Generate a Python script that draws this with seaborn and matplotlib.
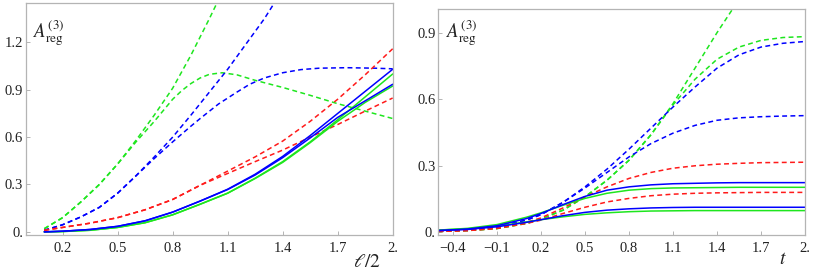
import numpy as np
import pandas as pd
import matplotlib
matplotlib.use("Agg")
import matplotlib.pyplot as plt
import seaborn as sns

# ---------------- data: left panel (x = l/2) ----------------
L_solid_x = [0.1, 0.2, 0.35, 0.5, 0.65, 0.8, 0.95, 1.1, 1.25, 1.4, 1.55, 1.7, 1.85, 2.0]
L_solid_blue_a_y = [0.0, 0.004, 0.015, 0.035, 0.07, 0.125, 0.195, 0.27, 0.365, 0.478, 0.61, 0.75, 0.89, 1.03]
L_solid_blue_b_y = [0.0, 0.004, 0.015, 0.035, 0.07, 0.125, 0.195, 0.268, 0.36, 0.47, 0.595, 0.725, 0.83, 0.935]
L_solid_green_a_y = [0.0, 0.002, 0.01, 0.028, 0.058, 0.108, 0.175, 0.245, 0.34, 0.445, 0.57, 0.71, 0.855, 1.0]
L_solid_green_b_y = [0.0, 0.002, 0.01, 0.028, 0.058, 0.108, 0.175, 0.245, 0.338, 0.44, 0.565, 0.70, 0.82, 0.924]

L_red_x = [0.1, 0.2, 0.35, 0.5, 0.65, 0.8, 0.95, 1.1, 1.25, 1.4, 1.55, 1.7, 1.85, 2.0]
L_red_a_y = [0.01, 0.028, 0.055, 0.09, 0.14, 0.205, 0.295, 0.385, 0.475, 0.575, 0.70, 0.84, 0.995, 1.16]
L_red_b_y = [0.01, 0.028, 0.055, 0.09, 0.14, 0.205, 0.295, 0.37, 0.445, 0.518, 0.60, 0.68, 0.765, 0.848]

L_green_a_x = [0.1, 0.2, 0.3, 0.4, 0.5, 0.6, 0.7, 0.8, 0.9, 1.0, 1.05]
L_green_a_y = [0.02, 0.09, 0.19, 0.30, 0.43, 0.58, 0.74, 0.91, 1.12, 1.35, 1.47]
L_green_b_x = [0.1, 0.2, 0.3, 0.4, 0.5, 0.6, 0.7, 0.8, 0.85, 0.9, 0.95, 1.0, 1.07, 1.15, 1.25, 1.4, 1.55, 1.7, 1.85, 2.0]
L_green_b_y = [0.02, 0.09, 0.19, 0.30, 0.43, 0.57, 0.70, 0.84, 0.895, 0.94, 0.975, 0.998, 1.008, 0.995, 0.96, 0.915, 0.865, 0.812, 0.765, 0.718]

L_blue_a_x = [0.1, 0.2, 0.3, 0.4, 0.5, 0.6, 0.7, 0.8, 0.9, 1.0, 1.1, 1.2, 1.3, 1.36]
L_blue_a_y = [0.01, 0.045, 0.095, 0.155, 0.245, 0.355, 0.475, 0.60, 0.74, 0.885, 1.03, 1.19, 1.35, 1.46]
L_blue_b_x = [0.1, 0.2, 0.3, 0.4, 0.5, 0.6, 0.7, 0.8, 0.9, 0.95, 1.05, 1.15, 1.22, 1.3, 1.4, 1.5, 1.6, 1.75, 1.9, 2.0]
L_blue_b_y = [0.01, 0.045, 0.095, 0.155, 0.245, 0.355, 0.465, 0.57, 0.67, 0.718, 0.81, 0.885, 0.935, 0.975, 1.008, 1.028, 1.037, 1.04, 1.037, 1.033]

# ---------------- data: right panel (x = t) ----------------
R_t = [-0.5, -0.3, -0.1, 0.1, 0.2, 0.35, 0.5, 0.65, 0.8, 0.95, 1.1, 1.25, 1.4, 1.55, 1.7, 1.85, 2.0]
R_solid_blue_a = [0.008, 0.015, 0.03, 0.062, 0.085, 0.125, 0.162, 0.19, 0.205, 0.214, 0.219, 0.221, 0.223, 0.224, 0.224, 0.224, 0.224]
R_solid_green_a = [0.01, 0.018, 0.035, 0.068, 0.088, 0.122, 0.153, 0.176, 0.19, 0.197, 0.2, 0.201, 0.202, 0.203, 0.203, 0.203, 0.203]
R_solid_blue_b = [0.008, 0.013, 0.025, 0.045, 0.057, 0.075, 0.09, 0.1, 0.106, 0.11, 0.112, 0.113, 0.113, 0.113, 0.113, 0.113, 0.113]
R_solid_green_b = [0.01, 0.016, 0.028, 0.047, 0.057, 0.07, 0.081, 0.088, 0.093, 0.096, 0.097, 0.098, 0.098, 0.098, 0.098, 0.098, 0.098]
R_red_a = [0.004, 0.008, 0.018, 0.045, 0.065, 0.11, 0.16, 0.205, 0.243, 0.27, 0.289, 0.30, 0.307, 0.311, 0.314, 0.315, 0.316]
R_red_b = [0.004, 0.008, 0.018, 0.04, 0.055, 0.085, 0.113, 0.137, 0.153, 0.165, 0.172, 0.176, 0.178, 0.179, 0.18, 0.18, 0.18]
R_blue_a = [0.006, 0.012, 0.025, 0.055, 0.08, 0.135, 0.205, 0.285, 0.375, 0.47, 0.565, 0.655, 0.74, 0.80, 0.835, 0.852, 0.86]
R_blue_b = [0.006, 0.012, 0.025, 0.055, 0.08, 0.135, 0.2, 0.27, 0.34, 0.40, 0.447, 0.482, 0.505, 0.516, 0.521, 0.524, 0.526]
R_green_b = [0.004, 0.008, 0.017, 0.04, 0.06, 0.10, 0.16, 0.235, 0.325, 0.44, 0.575, 0.69, 0.78, 0.835, 0.865, 0.878, 0.882]
R_green_a_t = [-0.5, -0.3, -0.1, 0.1, 0.2, 0.35, 0.5, 0.65, 0.8, 0.95, 1.1, 1.25, 1.4, 1.55]
R_green_a = [0.004, 0.008, 0.017, 0.04, 0.06, 0.10, 0.16, 0.235, 0.325, 0.44, 0.58, 0.74, 0.90, 1.05]

left_xticks = [0.2, 0.5, 0.8, 1.1, 1.4, 1.7, 2.0]
left_xticklabels = ["0.2", "0.5", "0.8", "1.1", "1.4", "1.7", "2."]
left_yticks = [0.0, 0.3, 0.6, 0.9, 1.2]
left_yticklabels = ["0.", "0.3", "0.6", "0.9", "1.2"]
right_xticks = [-0.4, -0.1, 0.2, 0.5, 0.8, 1.1, 1.4, 1.7, 2.0]
right_xticklabels = ["\u22120.4", "\u22120.1", "0.2", "0.5", "0.8", "1.1", "1.4", "1.7", "2."]
right_yticks = [0.0, 0.3, 0.6, 0.9]
right_yticklabels = ["0.", "0.3", "0.6", "0.9"]

BLUE = "#0000ff"
GREEN = "#1ee61e"
RED = "#ff1a1a"
FRAME = "#b4b4b4"

sns.set_theme(style="white")
plt.rcParams["mathtext.fontset"] = "stix"
plt.rcParams["font.family"] = ["Liberation Serif", "DejaVu Serif"]

fig = plt.figure(figsize=(8.14, 2.80), dpi=100)
axL = fig.add_axes([0.0319, 0.1607, 0.4505, 0.8286])
axR = fig.add_axes([0.5385, 0.1607, 0.4505, 0.806])

dash = (3.2, 2.2)
lw = 1.1

def draw(ax, x, y, color, dashed):
    if dashed:
        sns.lineplot(x=x, y=y, ax=ax, color=color, lw=lw, estimator=None, sort=False,
                     linestyle=(0, dash))
    else:
        sns.lineplot(x=x, y=y, ax=ax, color=color, lw=lw, estimator=None, sort=False)

# left panel
draw(axL, L_green_a_x, L_green_a_y, GREEN, True)
draw(axL, L_green_b_x, L_green_b_y, GREEN, True)
draw(axL, L_blue_a_x, L_blue_a_y, BLUE, True)
draw(axL, L_blue_b_x, L_blue_b_y, BLUE, True)
draw(axL, L_red_x, L_red_a_y, RED, True)
draw(axL, L_red_x, L_red_b_y, RED, True)
draw(axL, L_solid_x, L_solid_green_a_y, GREEN, False)
draw(axL, L_solid_x, L_solid_green_b_y, GREEN, False)
draw(axL, L_solid_x, L_solid_blue_a_y, BLUE, False)
draw(axL, L_solid_x, L_solid_blue_b_y, BLUE, False)

# right panel
draw(axR, R_green_a_t, R_green_a, GREEN, True)
draw(axR, R_t, R_green_b, GREEN, True)
draw(axR, R_t, R_blue_a, BLUE, True)
draw(axR, R_t, R_blue_b, BLUE, True)
draw(axR, R_t, R_red_a, RED, True)
draw(axR, R_t, R_red_b, RED, True)
draw(axR, R_t, R_solid_green_a, GREEN, False)
draw(axR, R_t, R_solid_green_b, GREEN, False)
draw(axR, R_t, R_solid_blue_a, BLUE, False)
draw(axR, R_t, R_solid_blue_b, BLUE, False)

axL.set_xlim(0.0, 2.0)
axL.set_ylim(-0.02, 1.45)
axR.set_xlim(-0.5, 2.0)
axR.set_ylim(-0.012, 1.005)

for ax, xt, xtl, yt, ytl in [(axL, left_xticks, left_xticklabels, left_yticks, left_yticklabels),
                             (axR, right_xticks, right_xticklabels, right_yticks, right_yticklabels)]:
    ax.set_xticks(xt)
    ax.set_xticklabels(xtl)
    ax.set_yticks(yt)
    ax.set_yticklabels(ytl)
    ax.set_xlabel("")
    ax.set_ylabel("")
    for s in ax.spines.values():
        s.set_color(FRAME)
        s.set_linewidth(0.9)
        s.set_visible(True)
    ax.tick_params(axis="both", direction="in", length=3, width=0.7, color=FRAME,
                   labelsize=10.5, labelcolor="#222222", left=True, bottom=True, top=False, right=False)
    ax.tick_params(axis="x", pad=5)
    ax.tick_params(axis="y", pad=2)
    ax.set_facecolor("white")

axL.text(0.02, 0.935, r"$A_{\mathrm{reg}}^{(3)}$", transform=axL.transAxes, ha="left", va="top",
         fontsize=13.5, color="#222222")
axR.text(0.02, 0.96, r"$A_{\mathrm{reg}}^{(3)}$", transform=axR.transAxes, ha="left", va="top",
         fontsize=13.5, color="#222222")
fig.text(0.4505, 0.064, r"$\ell/2$", ha="center", va="center", fontsize=14, color="#222222")
fig.text(0.962, 0.075, r"$t$", ha="center", va="center", fontsize=14, color="#222222")

fig.savefig("out.png", dpi=100, facecolor="white")
